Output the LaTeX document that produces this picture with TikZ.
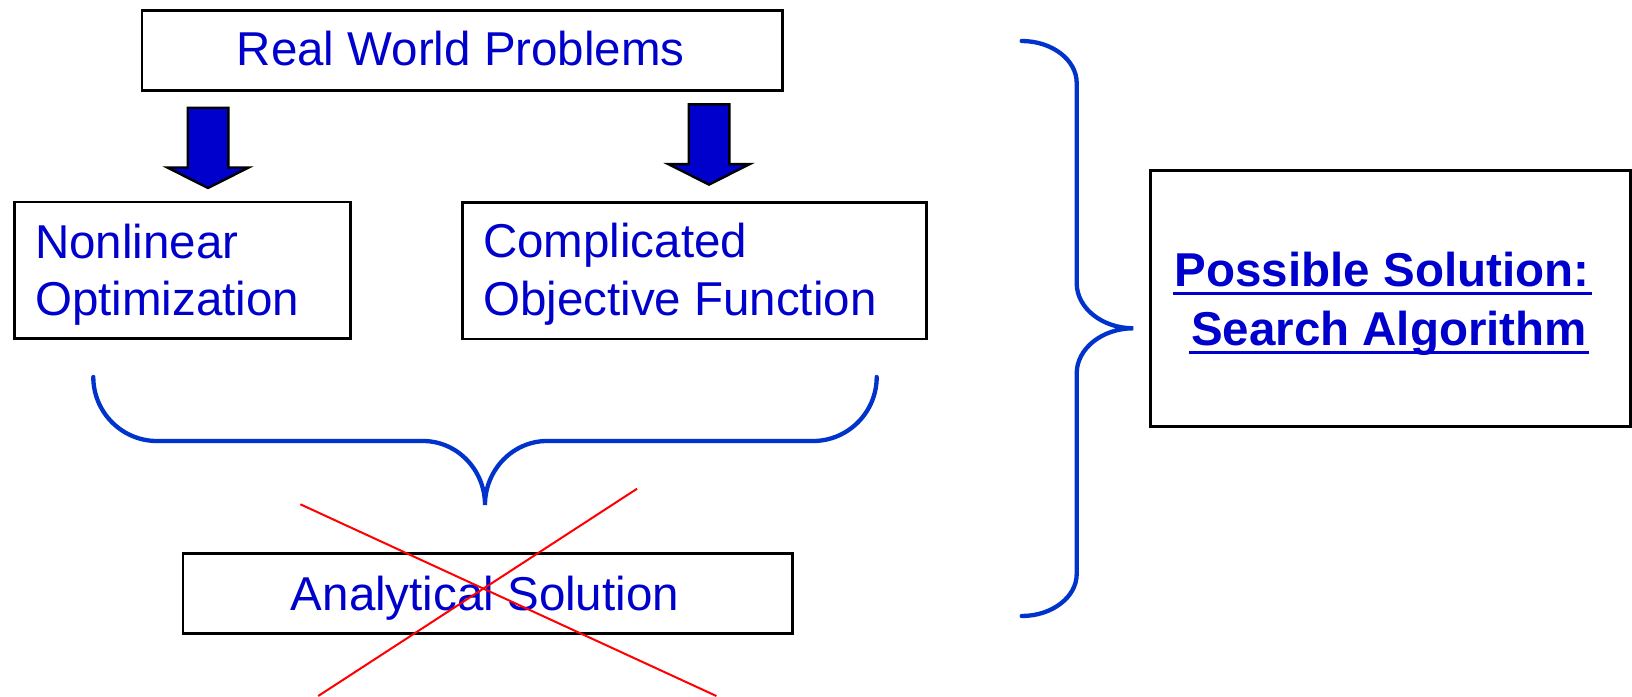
\documentclass[tikz,border=0pt]{standalone}
\usepackage{fontspec}
\setmainfont{Liberation Sans}
\definecolor{txtblue}{RGB}{0,0,204}
\definecolor{braceblue}{RGB}{0,51,204}
\begin{document}
\begin{tikzpicture}[x=1pt,y=-1pt,
  box/.style={draw=black, line width=2.6pt, rectangle, inner sep=0pt, anchor=north west},
  txt/.style={text=txtblue, inner sep=0pt, font=\fontsize{47.5}{57}\selectfont},
  btxt/.style={text=txtblue, inner sep=0pt, font=\fontsize{47.5}{57}\selectfont\bfseries},
  brace/.style={draw=braceblue, line width=4.3pt, line cap=round},
  cross/.style={draw=red, line width=2pt},
  uline/.style={draw=txtblue, line width=3.4pt},
  blockarrow/.style={draw=black, fill=txtblue, line width=2.4pt, line join=miter},
  blockarr/.pic={\path[blockarrow] (-20.3,0) -- (20.3,0) -- (20.3,59.8) -- (40.7,59.8) -- (0,80.3) -- (-40.7,59.8) -- (-20.3,59.8) -- cycle;}]
\useasboundingbox (0,0) rectangle (1632,696);

% boxes
\node[box, minimum width=640.5pt, minimum height=80pt] (rwp) at (140.5,9) {};
\node[box, minimum width=336pt, minimum height=136.6pt] (nl) at (13,200.7) {};
\node[box, minimum width=464pt, minimum height=136.5pt] (cof) at (461,201) {};
\node[box, minimum width=609.2pt, minimum height=80pt] (an) at (181.8,552.3) {};
\node[box, minimum width=480pt, minimum height=256pt] (ps) at (1149,169) {};

% texts
\node[txt, anchor=base] (rwpT) at (460.75,65.7) {Real World Problems};
\node[txt, anchor=base west] (nl1) at (35,258.3) {Nonlinear};
\node[txt, anchor=base west] (nl2) at (35,315) {Optimization};
\node[txt, anchor=base west] (cof1) at (483,257.7) {Complicated};
\node[txt, anchor=base west] (cof2) at (483,315) {Objective Function};
\node[txt, anchor=base] (anT) at (485,610) {Analytical Solution};
\node[btxt, anchor=base] (ps1) at (1382,286.7) {Possible Solution:};
\node[btxt, anchor=base] (ps2) at (1389,345.3) {Search Algorithm};
\draw[uline] ([xshift=-2pt,yshift=-7pt]ps1.base west) -- ([xshift=3pt,yshift=-7pt]ps1.base east);
\draw[uline] ([xshift=-2pt,yshift=-7pt]ps2.base west) -- ([xshift=2pt,yshift=-7pt]ps2.base east);

% block arrows
\coordinate (a1) at (208,107.7);
\coordinate (a2) at (709,104.3);
\pic at (a1) {blockarr};
\pic at (a2) {blockarr};

% bottom brace
\coordinate (bl) at (93.3,377);
\coordinate (bc) at (485,505);
\coordinate (br) at (876.7,377);
\draw[brace] (bl) .. controls (93.3,412.2) and (121.8,441) .. (157,441)
  -- (423,441) .. controls (457.1,441) and (485,469.8) .. (bc)
  .. controls (485,469.8) and (512.9,441) .. (547,441)
  -- (813,441) .. controls (848.2,441) and (876.7,412.2) .. (br);

% right brace
\coordinate (rt) at (1021.7,41);
\coordinate (rc) at (1133.3,328.3);
\coordinate (rb) at (1021.7,616);
\draw[brace] (rt) .. controls (1052,41) and (1076.7,59.9) .. (1076.7,83)
  -- (1076.7,283.3) .. controls (1076.7,308) and (1102.2,328.3) .. (rc)
  .. controls (1102.2,328.3) and (1076.7,348.6) .. (1076.7,373.3)
  -- (1076.7,574) .. controls (1076.7,597.1) and (1052,616) .. (rb);

% red cross
\coordinate (x1a) at (300.4,504.3);
\coordinate (x1b) at (716.4,696);
\coordinate (x2a) at (637.1,488.7);
\coordinate (x2b) at (318.2,696);
\draw[cross] (x1a) -- (x1b);
\draw[cross] (x2a) -- (x2b);
\end{tikzpicture}
\end{document}
